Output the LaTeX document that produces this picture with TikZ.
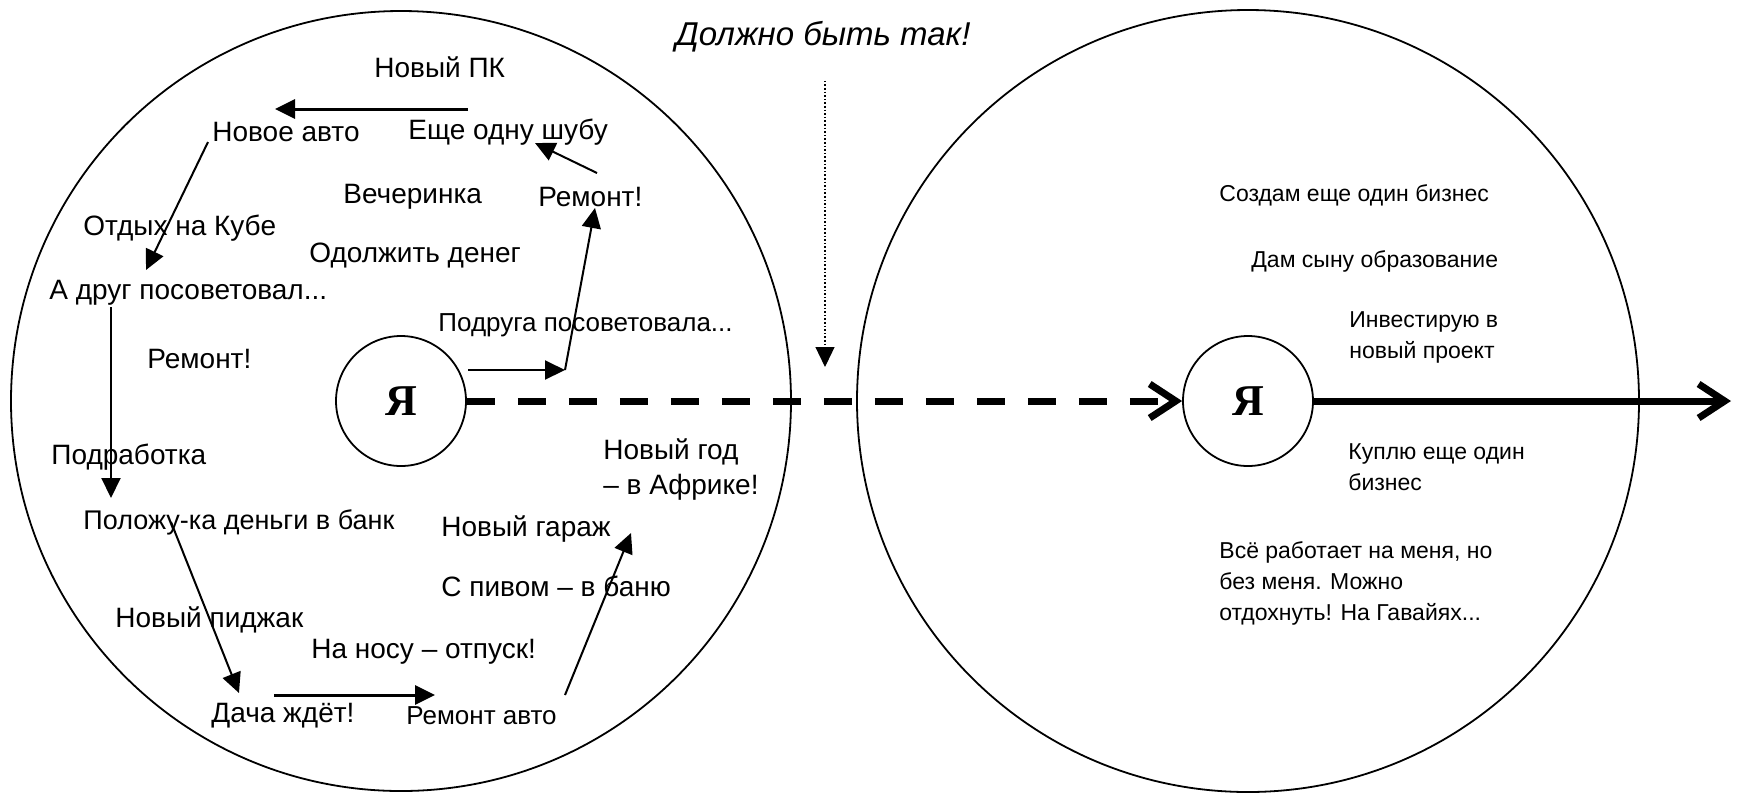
\documentclass[tikz,border=0pt]{standalone}
\usepackage{fontspec}
\setmainfont{Liberation Sans}
\newfontfamily\yafont{Liberation Serif}
\usetikzlibrary{arrows.meta}
\begin{document}
\begin{tikzpicture}[>={Triangle[length=10pt,width=9.5pt]},x=.5pt,y=-.5pt,
    txt/.style={anchor=west,inner sep=0pt,font=\fontsize{14}{17.5}\selectfont,align=left},
    rtxt/.style={txt,font=\fontsize{11.5}{15.5}\selectfont},
    me/.style={circle,draw,line width=.9pt,minimum size=65pt,inner sep=0pt,font=\yafont\bfseries\fontsize{22}{24}\selectfont},
    arr/.style={->,line width=1pt},
    way/.style={line width=3.5pt,-{Straight Barb[length=13pt,width=17pt]}}]
                \fill[white] (0,0) rectangle (1756,805);
                \useasboundingbox (0,0) rectangle (1756,805);
                \node[me] (ya) at (401,401) {Я};
                \node[me] (yb) at (1248,401) {Я};
                \draw[line width=.9pt] (ya.center) circle[radius=390];
                \draw[line width=.9pt] (yb.center) circle[radius=391];
                \node[inner sep=0pt,font=\itshape\fontsize{16.5}{20}\selectfont] (title) at (823,37) {Должно быть так!};
                \node[txt] (npk) at (374,67) {Новый ПК};
                \node[txt] (avto) at (212,132) {Новое авто};
                \node[txt] (shuba) at (408,132) {Еще одну шубу};
                \node[txt] (party) at (343,197) {Вечеринка};
                \node[txt] (rem1) at (538,197) {Ремонт!};
                \node[txt] (cuba) at (83,228) {Отдых на Кубе};
                \node[txt] (loan) at (309,256) {Одолжить денег};
                \node[txt] (drug) at (49,293) {А друг посоветовал...};
                \node[txt,font=\fontsize{13}{15}\selectfont] (podruga) at (438,325) {Подруга посоветовала...};
                \node[txt] (rem2) at (147,359) {Ремонт!};
                \node[txt] (job) at (51,457) {Подработка};
                \node[txt] (africa) at (603,470) {Новый год\\– в Африке!};
                \node[txt,font=\fontsize{13.5}{15}\selectfont] (bank) at (83,522) {Положу-ка деньги в банк};
                \node[txt] (garage) at (441,529) {Новый гараж};
                \node[txt] (sauna) at (441,586) {С пивом – в баню};
                \node[txt] (jacket) at (115,620) {Новый пиджак};
                \node[txt] (vacation) at (311,652) {На носу – отпуск!};
                \node[txt] (dacha) at (211,716) {Дача ждёт!};
                \node[txt,font=\fontsize{13}{15}\selectfont] (car) at (406,716) {Ремонт авто};
                \node[rtxt] (sozdam) at (1219,195) {Создам еще один бизнес};
                \node[rtxt] (son) at (1251,261) {Дам сыну образование};
                \node[rtxt] (invest) at (1349,337) {Инвестирую в\\новый проект};
                \node[rtxt] (kuplyu) at (1348,467) {Куплю еще один\\бизнес};
                \node[rtxt] (rest) at (1219,583) {Всё работает на меня, но\\без меня. Можно\\отдохнуть! На Гавайях...};
                \coordinate (hint) at (825,367);
                \coordinate (goal) at (1731,401);
                \coordinate (bend) at ([shift={(127,45)}]podruga.west);
                \draw[->,line width=1.5pt] ([shift={(60,-23)}]shuba.west) -- ([shift={(63,-23)}]avto.west);
                \draw[arr] ([shift={(59,-24)}]rem1.west) -- ([shift={(127,11)}]shuba.west);
                \draw[arr] ([shift={(-4,10)}]avto.west) -- ([shift={(97,-23)}]drug.west);
                \draw[arr] ([shift={(62,14)}]drug.west) -- ([shift={(28,-24)}]bank.west);
                \draw[arr] ([shift={(88,0)}]bank.west) -- ([shift={(28,-23)}]dacha.west);
                \draw[->,line width=1.5pt] ([shift={(63,-21)}]dacha.west) -- ([shift={(29,-21)}]car.west);
                \draw[arr] ([shift={(159,-21)}]car.west) -- ([shift={(190,4)}]garage.west);
                \draw[arr] ([shift={(67,-31)}]ya.center) -- (bend);
                \draw[arr] (bend) -- ([shift={(57,11)}]rem1.west);
                \draw[->,line width=.6pt,dash pattern=on .8pt off 1pt] ([shift={(2,28)}]title.south) -- (hint);
                \draw[way,dash pattern=on 14pt off 11.5pt] (ya.east) -- (yb.west);
                \draw[way] (yb.east) -- (goal);
            \end{tikzpicture}
\end{document}
